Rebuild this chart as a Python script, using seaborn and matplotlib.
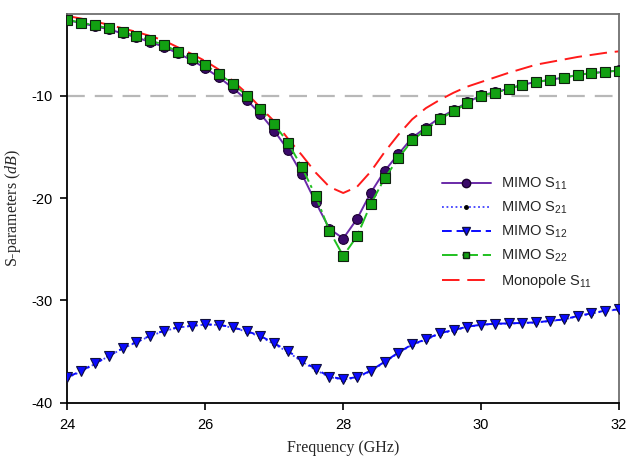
import numpy as np
import pandas as pd
import matplotlib
matplotlib.use("Agg")
import matplotlib.pyplot as plt
import seaborn as sns
from matplotlib.lines import Line2D

# Frequency sweep (GHz), one sample every 0.2 GHz
freq = [24.0, 24.2, 24.4, 24.6, 24.8, 25.0, 25.2, 25.4, 25.6, 25.8,
        26.0, 26.2, 26.4, 26.6, 26.8, 27.0, 27.2, 27.4, 27.6, 27.8,
        28.0, 28.2, 28.4, 28.6, 28.8, 29.0, 29.2, 29.4, 29.6, 29.8,
        30.0, 30.2, 30.4, 30.6, 30.8, 31.0, 31.2, 31.4, 31.6, 31.8, 32.0]

mimo_s11 = [-2.6, -2.9, -3.2, -3.5, -3.9, -4.28, -4.75, -5.2, -5.85, -6.5,
            -7.3, -8.2, -9.25, -10.4, -11.78, -13.42, -15.3, -17.65, -20.4, -23.0,
            -23.95, -22.04, -19.47, -17.35, -15.7, -14.1, -13.1, -12.15, -11.4, -10.65,
            -9.95, -9.65, -9.3, -8.9, -8.65, -8.42, -8.22, -7.95, -7.78, -7.65, -7.52]

mimo_s22 = [-2.56, -2.85, -3.11, -3.4, -3.76, -4.12, -4.58, -5.02, -5.68, -6.29,
            -6.98, -7.88, -8.83, -9.97, -11.33, -12.77, -14.6, -16.97, -19.78, -23.2,
            -25.65, -23.73, -20.58, -18.07, -16.1, -14.36, -13.3, -12.3, -11.5, -10.75,
            -10.0, -9.68, -9.36, -8.92, -8.67, -8.44, -8.24, -7.96, -7.79, -7.66, -7.53]

mimo_s12 = [-37.5, -36.9, -36.15, -35.43, -34.69, -34.07, -33.45, -32.96, -32.64, -32.48,
            -32.35, -32.38, -32.64, -33.0, -33.48, -34.2, -34.95, -35.89, -36.7, -37.45,
            -37.7, -37.5, -36.87, -36.0, -35.1, -34.3, -33.8, -33.2, -32.9, -32.57,
            -32.38, -32.28, -32.25, -32.2, -32.15, -32.0, -31.86, -31.53, -31.27, -31.0, -30.88]

mimo_s21 = [-37.55, -36.95, -36.2, -35.45, -34.7, -34.1, -33.48, -33.0, -32.66, -32.5,
            -32.37, -32.4, -32.68, -33.05, -33.55, -34.28, -35.05, -35.98, -36.8, -37.5,
            -37.75, -37.55, -36.92, -36.05, -35.15, -34.35, -33.85, -33.25, -32.95, -32.6,
            -32.4, -32.3, -32.27, -32.22, -32.17, -32.02, -31.88, -31.55, -31.3, -31.03, -30.9]

monopole_s11 = [-2.2, -2.45, -2.75, -3.05, -3.4, -3.75, -4.15, -4.6, -5.25, -5.9,
                -6.6, -7.45, -8.55, -9.75, -11.15, -12.5, -14.2, -15.8, -17.5, -18.9,
                -19.5, -18.9, -17.4, -15.5, -13.8, -12.3, -11.2, -10.4, -9.7, -9.1,
                -8.65, -8.2, -7.75, -7.35, -6.95, -6.7, -6.45, -6.2, -6.0, -5.8, -5.65]

legend_labels = ["MIMO S$_{11}$", "MIMO S$_{21}$", "MIMO S$_{12}$",
                 "MIMO S$_{22}$", "Monopole S$_{11}$"]

sns.set_style("ticks")
plt.rcParams["font.family"] = ["Liberation Sans", "DejaVu Sans"]
plt.rcParams["mathtext.fontset"] = "custom"
plt.rcParams["mathtext.rm"] = "Liberation Sans"
plt.rcParams["mathtext.it"] = "Liberation Serif:italic"
plt.rcParams["axes.unicode_minus"] = False

df = pd.DataFrame({
    "freq": freq,
    "s11": mimo_s11,
    "s21": mimo_s21,
    "s12": mimo_s12,
    "s22": mimo_s22,
    "mono": monopole_s11,
})

fig = plt.figure(figsize=(6.29, 4.59), dpi=100)
ax = fig.add_axes([0.1073, 0.1227, 0.8767, 0.8468])

# -10 dB reference level
ax.axhline(-10, color="#b8b8b8", lw=1.6, dashes=(8, 4.5), zorder=1)

purple_line = "#6a2aa8"
purple_mark = "#3a0a6a"
blue = "#0a0aff"
green_line = "#20c020"
green_mark = "#12a012"
red = "#ff1a1a"

sns.lineplot(data=df, x="freq", y="mono", ax=ax, color=red, lw=1.4,
             linestyle=(0, (9, 4)), errorbar=None, zorder=2)
sns.lineplot(data=df, x="freq", y="s21", ax=ax, color="#4040ff", lw=1.3,
             linestyle=(0, (1, 1.5)), marker="o", markersize=2.5,
             markerfacecolor="black", markeredgecolor="black",
             errorbar=None, zorder=3)
sns.lineplot(data=df, x="freq", y="s12", ax=ax, color=blue, lw=1.4,
             linestyle=(0, (5, 2.5)), marker="v", markersize=7,
             markerfacecolor=blue, markeredgecolor="#101040", markeredgewidth=0.8,
             errorbar=None, zorder=4)
sns.lineplot(data=df, x="freq", y="s11", ax=ax, color=purple_line, lw=1.4,
             marker="o", markersize=7, markerfacecolor=purple_mark,
             markeredgecolor="#1a0030", markeredgewidth=0.8,
             errorbar=None, zorder=5)
sns.lineplot(data=df, x="freq", y="s22", ax=ax, color=green_line, lw=1.4,
             linestyle=(0, (8, 2, 1.5, 2)), marker="s", markersize=6.5,
             markerfacecolor=green_mark, markeredgecolor="#102010", markeredgewidth=0.8,
             errorbar=None, zorder=6)

ax.set_xlim(24, 32)
ax.set_ylim(-40, -2)
ax.set_xticks([24, 26, 28, 30, 32])
ax.set_yticks([-40, -30, -20, -10])
ax.tick_params(axis="both", direction="out", length=5, width=1.2,
               labelsize=10.5, colors="black", pad=6)

for side in ("left", "bottom"):
    ax.spines[side].set_color("black")
    ax.spines[side].set_linewidth(1.3)
for side in ("top", "right"):
    ax.spines[side].set_visible(True)
    ax.spines[side].set_color("#707070")
    ax.spines[side].set_linewidth(1.3)

ax.set_xlabel("Frequency (GHz)", fontsize=11.5, family="Liberation Serif", labelpad=6)
ax.set_ylabel("S-parameters ($dB$)", fontsize=11.5, family="Liberation Serif", labelpad=6)

handles = [
    Line2D([], [], color=purple_line, lw=1.4, marker="o", markersize=6,
           markerfacecolor=purple_mark, markeredgecolor="#1a0030"),
    Line2D([], [], color="#4040ff", lw=1.3, linestyle=(0, (1, 1.5)), marker="o",
           markersize=2.5, markerfacecolor="black", markeredgecolor="black"),
    Line2D([], [], color=blue, lw=1.4, linestyle=(0, (5, 2.5)), marker="v",
           markersize=6, markerfacecolor=blue, markeredgecolor="#101040"),
    Line2D([], [], color=green_line, lw=1.4, linestyle=(0, (8, 2.5)), marker="s",
           markersize=5, markerfacecolor=green_mark, markeredgecolor="#102010"),
    Line2D([], [], color=red, lw=1.4, linestyle=(0, (9, 4))),
]
ax.legend(handles, legend_labels, loc="upper left", bbox_to_anchor=(0.66, 0.61),
          frameon=False, fontsize=10.5, handlelength=3.4, handletextpad=0.7,
          labelspacing=0.55, borderpad=0.2)

fig.savefig("out.png", dpi=100)
